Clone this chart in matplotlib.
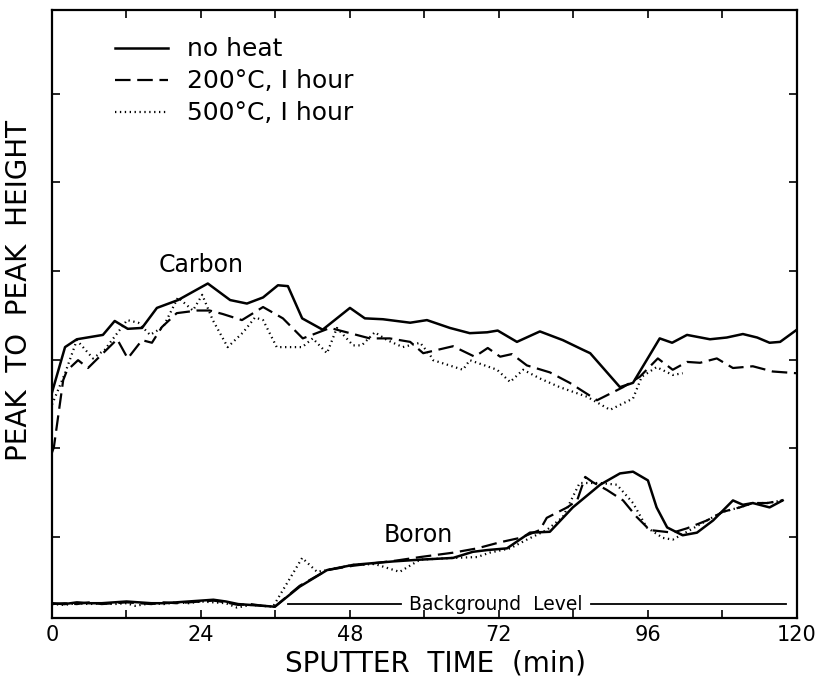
import numpy as np
import matplotlib
matplotlib.use("Agg")
import matplotlib.pyplot as plt

# carbon, no heat
c0_t = [0, 2.1, 4.0, 8.2, 10.1, 12.2, 14.5, 16.9, 20.3, 25.1, 28.7, 31.4, 34.0, 36.4, 38.0,
        40.3, 43.6, 48.0, 50.4, 53.3, 57.7, 60.4, 64.1, 67.3, 70.1, 71.8, 74.9, 78.6, 82.3,
        85.5, 86.7, 91.5, 93.6, 96.3, 97.9, 99.9, 102.3, 106.0, 108.7, 111.3, 113.6, 115.6,
        117.3, 120]
c0_v = [2.59, 3.11, 3.20, 3.25, 3.41, 3.32, 3.33, 3.56, 3.65, 3.84, 3.65, 3.61, 3.68, 3.82, 3.81,
        3.44, 3.31, 3.56, 3.44, 3.43, 3.39, 3.42, 3.33, 3.27, 3.28, 3.30, 3.17, 3.29, 3.19,
        3.08, 3.04, 2.65, 2.70, 3.02, 3.21, 3.16, 3.25, 3.20, 3.22, 3.26, 3.22, 3.16,
        3.17, 3.31]

# carbon, 200 C
c2_t = [0, 0.3, 1.8, 2.4, 4.2, 5.8, 10.5, 12.2, 14.5, 16.1, 17.7, 20.1, 23.4, 25.4, 27.5, 30.6,
        34.0, 37.2, 40.4, 44.8, 48.0, 51.2, 54.4, 57.7, 59.8, 64.6, 68.1, 70.2, 72.2, 74.1,
        76.5, 80.2, 83.4, 87.8, 92.0, 94.7, 97.6, 100.0, 102.3, 104.4, 107.1, 109.7, 112.9,
        116.1, 120]
c2_v = [1.90, 1.96, 2.73, 2.84, 2.96, 2.87, 3.20, 2.98, 3.19, 3.16, 3.34, 3.50, 3.53, 3.53, 3.49, 3.42,
        3.57, 3.44, 3.21, 3.33, 3.27, 3.21, 3.21, 3.17, 3.04, 3.12, 3.00, 3.10, 3.00, 3.03,
        2.90, 2.82, 2.70, 2.50, 2.65, 2.77, 2.98, 2.85, 2.94, 2.93, 2.98, 2.87, 2.89,
        2.83, 2.81]

# carbon, 500 C
c5_t = [0, 2.1, 4.0, 6.6, 8.5, 12.1, 13.9, 15.8, 17.9, 20.3, 22.7, 24.2, 25.9, 28.3, 30.8, 32.7,
        34.0, 36.2, 40.3, 42.0, 44.3, 45.9, 48.5, 49.9, 52.0, 54.0, 56.5, 59.3, 60.9, 61.4,
        66.2, 67.3, 71.7, 73.8, 75.9, 78.6, 81.8, 86.2, 89.9, 93.6, 95.0, 97.4, 100.0, 101.6]
c5_v = [2.45, 2.81, 3.19, 2.98, 3.08, 3.42, 3.39, 3.25, 3.34, 3.68, 3.53, 3.71, 3.42, 3.11, 3.28, 3.45,
        3.42, 3.11, 3.11, 3.21, 3.04, 3.33, 3.13, 3.13, 3.28, 3.19, 3.11, 3.16, 3.02, 2.96,
        2.85, 2.96, 2.85, 2.71, 2.85, 2.75, 2.65, 2.54, 2.39, 2.52, 2.77, 2.88, 2.79, 2.81]

# boron, no heat
b0_t = [0, 2, 4, 6, 8, 10, 12, 14, 16, 18, 20, 22, 24, 26, 28, 30, 32, 34, 35.9,
        39.9, 44.3, 48.5, 51.7, 55.0, 59.3, 64.6, 67.8, 70.1, 73.3, 77.0, 80.2, 83.9,
        88.3, 91.5, 93.6, 96.0, 97.4, 99.1, 101.6, 103.9, 106.5, 109.7, 111.3, 112.9,
        115.6, 117.7]
b0_v = [0.17, 0.16, 0.18, 0.17, 0.17, 0.18, 0.19, 0.18, 0.17, 0.17, 0.18, 0.19, 0.20, 0.21, 0.19, 0.16, 0.15, 0.14, 0.13,
        0.36, 0.55, 0.61, 0.63, 0.65, 0.67, 0.69, 0.76, 0.78, 0.80, 0.98, 0.99, 1.27,
        1.53, 1.66, 1.68, 1.58, 1.27, 1.04, 0.95, 0.98, 1.12, 1.35, 1.30, 1.32,
        1.27, 1.35]

# boron, 200 C
b2_t = [0, 2, 4, 6, 8, 10, 12, 14, 16, 18, 20, 22, 24, 26, 28, 30, 32, 34, 35.9,
        39.9, 44.3, 48.5, 52.0, 55.5, 59.3, 64.6, 68.5, 72.2, 75.4, 78.6, 79.7, 83.0,
        84.6, 85.9, 87.1, 89.4, 92.0, 94.2, 96.3, 100.0, 102.3, 105.5, 108.1, 110.8,
        112.9, 115.2, 117.7]
b2_v = [0.16, 0.17, 0.16, 0.18, 0.16, 0.17, 0.18, 0.17, 0.16, 0.18, 0.17, 0.18, 0.19, 0.20, 0.18, 0.15, 0.16, 0.14, 0.13,
        0.37, 0.55, 0.60, 0.63, 0.66, 0.70, 0.75, 0.80, 0.87, 0.92, 1.01, 1.15, 1.27,
        1.35, 1.62, 1.56, 1.47, 1.35, 1.16, 1.01, 0.98, 1.03, 1.12, 1.22, 1.27,
        1.32, 1.32, 1.35]

# boron, 500 C
b5_t = [0, 2, 4, 6, 8, 10, 12, 13.4, 16, 18, 20, 22, 24, 26, 28, 29.8, 32, 34, 35.6,
        40.3, 42.7, 45.0, 48.5, 52.0, 56.0, 59.3, 64.6, 68.5, 70.5, 73.8, 76.5, 79.7,
        82.3, 85.0, 88.3, 91.0, 93.6, 95.8, 98.4, 100.0, 102.3, 105.5, 108.1, 110.8,
        112.9, 115.2, 117.7]
b5_v = [0.16, 0.15, 0.17, 0.16, 0.17, 0.16, 0.17, 0.14, 0.17, 0.16, 0.18, 0.17, 0.19, 0.18, 0.17, 0.12, 0.15, 0.14, 0.13,
        0.69, 0.53, 0.56, 0.61, 0.62, 0.53, 0.67, 0.69, 0.70, 0.75, 0.80, 0.90, 1.01,
        1.16, 1.55, 1.55, 1.53, 1.32, 1.04, 0.92, 0.90, 0.99, 1.12, 1.22, 1.27,
        1.32, 1.32, 1.35]

background = 0.16
legend_labels = ["no heat", "200°C, I hour", "500°C, I hour"]

fig = plt.figure(figsize=(8.19, 6.79), dpi=100)
ax = fig.add_axes([0.0635, 0.0898, 0.9095, 0.8955])

solid = dict(color="black", lw=1.8, ls="-")
dashed = dict(color="black", lw=1.6, ls=(0, (7, 3)))
dotted = dict(color="black", lw=1.6, ls=(0, (0.6, 1.6)))

l0, = ax.plot(c0_t, c0_v, **solid)
l2, = ax.plot(c2_t, c2_v, **dashed)
l5, = ax.plot(c5_t, c5_v, **dotted)
ax.plot(b0_t, b0_v, **solid)
ax.plot(b2_t, b2_v, **dashed)
ax.plot(b5_t, b5_v, **dotted)

# background level marker
ax.plot([38, 56.2], [background, background], color="black", lw=1.3)
ax.plot([86.9, 118.2], [background, background], color="black", lw=1.3)
ax.text(71.5, background, "Background  Level", ha="center", va="center", fontsize=13.5)

ax.text(24.0, 4.05, "Carbon", ha="center", va="center", fontsize=17)
ax.text(59.0, 0.95, "Boron", ha="center", va="center", fontsize=17)

ax.legend([l0, l2, l5], legend_labels, loc="upper left", bbox_to_anchor=(0.0846, 0.955),
          frameon=False, fontsize=18, handlelength=2.1, handletextpad=0.76,
          labelspacing=0.32, borderpad=0, borderaxespad=0)

ax.set_xlim(0, 120)
ax.set_ylim(0, 6.98)
ax.set_xticks(np.arange(0, 121, 12))
ax.set_xticklabels([str(v) if v % 24 == 0 else "" for v in range(0, 121, 12)])
ax.set_yticks(0.93 + 1.018 * np.arange(6))
ax.set_yticklabels([])
ax.tick_params(direction="in", length=6, width=1.2, top=True, right=True,
               labelsize=15, pad=5)
for s in ax.spines.values():
    s.set_linewidth(1.6)

ax.set_xlabel("SPUTTER  TIME  (min)", fontsize=20)
ax.xaxis.set_label_coords(0.515, -0.051)
ax.set_ylabel("PEAK  TO  PEAK  HEIGHT", fontsize=20)
ax.yaxis.set_label_coords(-0.0255, 0.538)

fig.savefig("out.png", dpi=100)
